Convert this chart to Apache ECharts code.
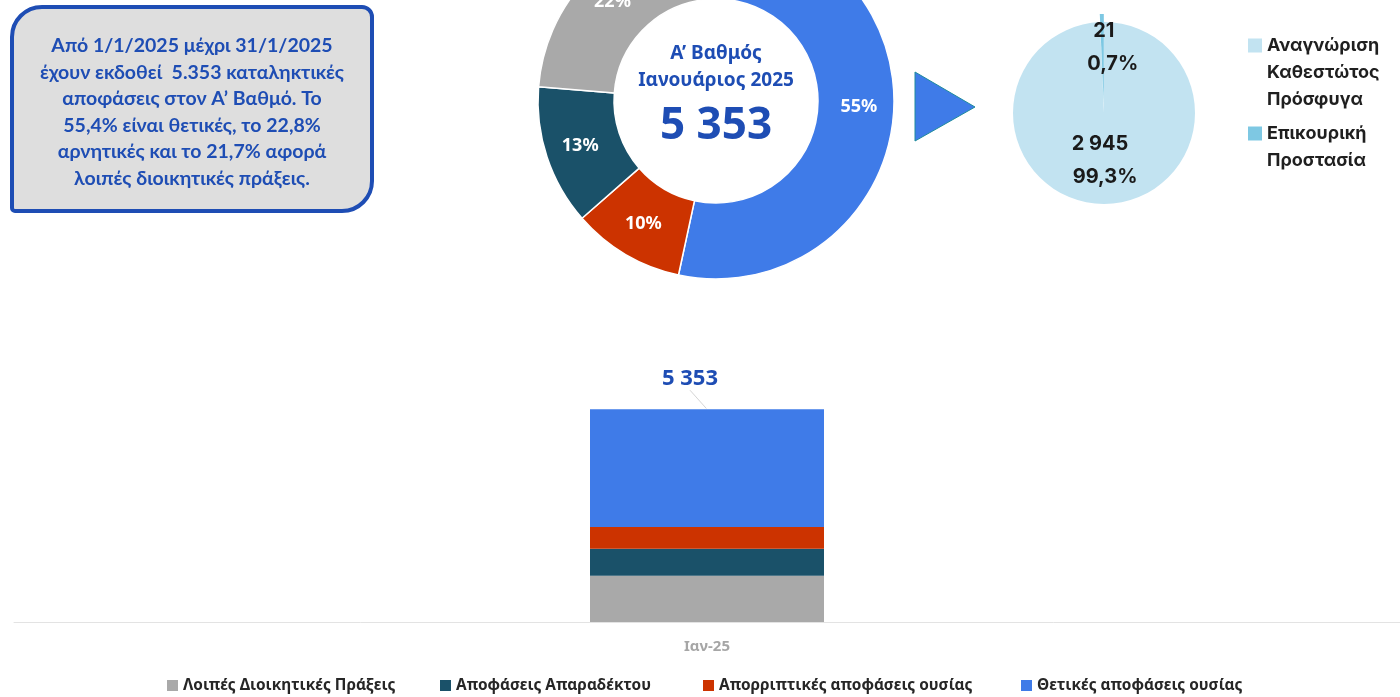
<!DOCTYPE html>
<html><head><meta charset="utf-8">
<script src="https://cdn.jsdelivr.net/npm/echarts@6/dist/echarts.min.js"></script>
<style>html,body{margin:0;padding:0;background:#fff}#c{width:1400px;height:697px}</style>
</head><body><div id="c"></div>
<script>
// ---- data ----
const categories = ['Ιαν-25'];
const seriesNames = ['Λοιπές Διοικητικές Πράξεις', 'Αποφάσεις Απαραδέκτου', 'Απορριπτικές αποφάσεις ουσίας', 'Θετικές αποφάσεις ουσίας'];
const otherActs = [1162];
const inadmissible = [680];
const rejections = [545];
const positive = [2966];
const breakdownNames = ['Αναγνώριση Καθεστώτος Πρόσφυγα', 'Επικουρική Προστασία'];
const breakdownLegendLabels = ['Αναγνώριση\nΚαθεστώτος\nΠρόσφυγα', 'Επικουρική\nΠροστασία'];
const breakdownValues = [2945, 21];
const summaryLines = ['Από 1/1/2025 μέχρι 31/1/2025', 'έχουν εκδοθεί  5.353 καταληκτικές', 'αποφάσεις στον Α’ Βαθμό. Το', '55,4% είναι θετικές, το 22,8%', 'αρνητικές και το 21,7% αφορά', 'λοιπές διοικητικές πράξεις.'];
const donutTitleLines = ['Α’ Βαθμός', 'Ιανουάριος 2025'];

// ---- styling ----
const colors = ['#A9A9A9', '#1A5169', '#CC3300', '#3F7BE8'];
const breakdownColors = ['#C2E3F1', '#7EC8E3'];
const darkBlue = '#1E4DB4';
const F = "'Noto Sans', 'DejaVu Sans', sans-serif";
const FL = "Lato, 'Noto Sans', sans-serif";
const F2 = "Inter, 'Noto Sans', sans-serif";

const barData = [otherActs, inadmissible, rejections, positive];
const totals = categories.map((c, k) => barData.reduce((s, a) => s + a[k], 0));
const total = totals[0];
const fmtNum = v => String(v).replace(/\B(?=(\d{3})+(?!\d))/g, ' ');
const fmtPct1 = p => p.toFixed(1).replace('.', ',') + '%';

const chart = echarts.init(document.getElementById('c'), null, {renderer: 'canvas'});

const barSeries = seriesNames.map((n, i) => ({
  name: n, type: 'bar', stack: 'total', data: barData[i], barWidth: 234,
  itemStyle: {color: colors[i]}, emphasis: {disabled: true}
}));

// total label with leader line, anchored at the top of the stack
const totalSeries = {
  type: 'scatter', data: totals, symbolSize: 2, itemStyle: {color: 'rgba(0,0,0,0)', opacity: 1},
  silent: true, z: 5,
  label: {
    show: true, position: 'top', distance: 4, formatter: p => fmtNum(p.value),
    color: darkBlue, fontSize: 22, fontWeight: 'bold', fontFamily: F
  },
  labelLayout: {dx: -17, dy: -14},
  labelLine: {show: true, lineStyle: {color: '#D5D5D5', width: 1}}
};

// donut order: clockwise from positive
const donutOrder = [3, 2, 1, 0];
const donutData = donutOrder.map(i => ({name: seriesNames[i], value: barData[i][0], itemStyle: {color: colors[i]}}));

const bTotal = breakdownValues.reduce((a, b) => a + b, 0);
const breakdownShift = [[0, -1], [10, -9]];
const breakdownPad = [10, 18];
const breakdownData = breakdownValues.map((v, i) => ({
  name: breakdownNames[i], value: v, selected: i === 1,
  itemStyle: {color: breakdownColors[i]},
  label: {
    rich: {
      v: {fontSize: 20, fontWeight: 'bold', color: '#1A1A1A', lineHeight: 33, fontFamily: F2, padding: [0, breakdownPad[i], 0, 0]},
      p: {fontSize: 20, fontWeight: 'bold', color: '#1A1A1A', lineHeight: 33, fontFamily: F2}
    }
  }
}));

const bottomLegendLefts = [162, 435, 698, 1016];
const legends = seriesNames.map((n, i) => ({
  data: [n], left: bottomLegendLefts[i], top: 673, itemWidth: 11, itemHeight: 11, icon: 'rect',
  textStyle: {color: '#262626', fontSize: 15.4, fontWeight: 'bold', fontFamily: F}, selectedMode: false
}));
const rightLegendTops = [27, 115];
const rightLegendHeights = [81, 54];
breakdownNames.forEach((n, i) => {
  const h = rightLegendHeights[i];
  legends.push({
    data: [{name: n, icon: 'path://M0,0M0,6.5L14,6.5L14,20.5L0,20.5ZM0,' + h}],
    left: 1243, top: rightLegendTops[i], itemWidth: 14, itemHeight: h, selectedMode: false,
    formatter: name => breakdownLegendLabels[breakdownNames.indexOf(name)],
    textStyle: {color: '#1F1F1F', fontSize: 18, fontWeight: 'bold', fontFamily: F2, lineHeight: 27}
  });
});

chart.setOption({
  animation: false,
  backgroundColor: '#fff',
  legend: legends,
  grid: {left: 14, right: 0, top: 304, bottom: 75},
  xAxis: {
    type: 'category', data: categories,
    axisLine: {lineStyle: {color: '#E3E3E3', width: 1}}, axisTick: {show: false},
    axisLabel: {color: '#A6A6A6', fontSize: 15, fontWeight: 'bold', fontFamily: F, margin: 17}
  },
  yAxis: {type: 'value', min: 0, max: 8000, show: false, splitLine: {show: false}},
  series: barSeries.concat([
    totalSeries,
    {
      type: 'pie', center: [716, 101], radius: [102, 178], startAngle: 97.3, clockwise: true,
      data: donutData,
      itemStyle: {borderColor: '#fff', borderWidth: 1.5},
      label: {
        show: true, position: 'inside', color: '#fff', fontSize: 18, fontWeight: 'bold', fontFamily: F,
        formatter: p => Math.round(p.value / total * 100) + '%'
      },
      labelLine: {show: false}, emphasis: {disabled: true}
    },
    {
      type: 'pie', center: [1104, 113], radius: [0, 91], startAngle: 90, clockwise: true,
      selectedMode: 'single', selectedOffset: 8,
      data: breakdownData,
      label: {
        show: true, position: 'inside', fontFamily: F2,
        formatter: p => '{v|' + fmtNum(p.value) + '}\n{p|' + fmtPct1(p.value / bTotal * 100) + '}'
      },
      labelLayout: p => ({dx: breakdownShift[p.dataIndex][0], dy: breakdownShift[p.dataIndex][1]}),
      labelLine: {show: false}, emphasis: {disabled: true}
    }
  ]),
  graphic: [
    {
      type: 'rect', shape: {x: 12, y: 7, width: 360, height: 204, r: [30, 10, 30, 3]},
      style: {fill: '#DEDEDE', stroke: darkBlue, lineWidth: 4}, z: 10
    },
    {
      type: 'text', x: 192, y: 112, z: 11,
      style: {
        text: summaryLines.join('\n'), fill: darkBlue, align: 'center', verticalAlign: 'middle',
        font: 'bold 19.5px ' + FL, lineHeight: 26.5
      }
    },
    {
      type: 'polygon', shape: {points: [[915, 72], [975, 107], [915, 141]]},
      style: {fill: '#3F7BE8', stroke: '#1E8C9C', lineWidth: 1}, z: 10
    },
    {
      type: 'text', x: 716, y: 54, z: 11,
      style: {text: donutTitleLines[0], fill: darkBlue, align: 'center', verticalAlign: 'middle', font: 'bold 19px ' + F}
    },
    {
      type: 'text', x: 716, y: 81, z: 11,
      style: {text: donutTitleLines[1], fill: darkBlue, align: 'center', verticalAlign: 'middle', font: 'bold 19px ' + F}
    },
    {
      type: 'text', x: 716, y: 126, z: 11,
      style: {text: fmtNum(total), fill: darkBlue, align: 'center', verticalAlign: 'middle', font: 'bold 44px ' + F}
    }
  ]
});
</script>
</body></html>
